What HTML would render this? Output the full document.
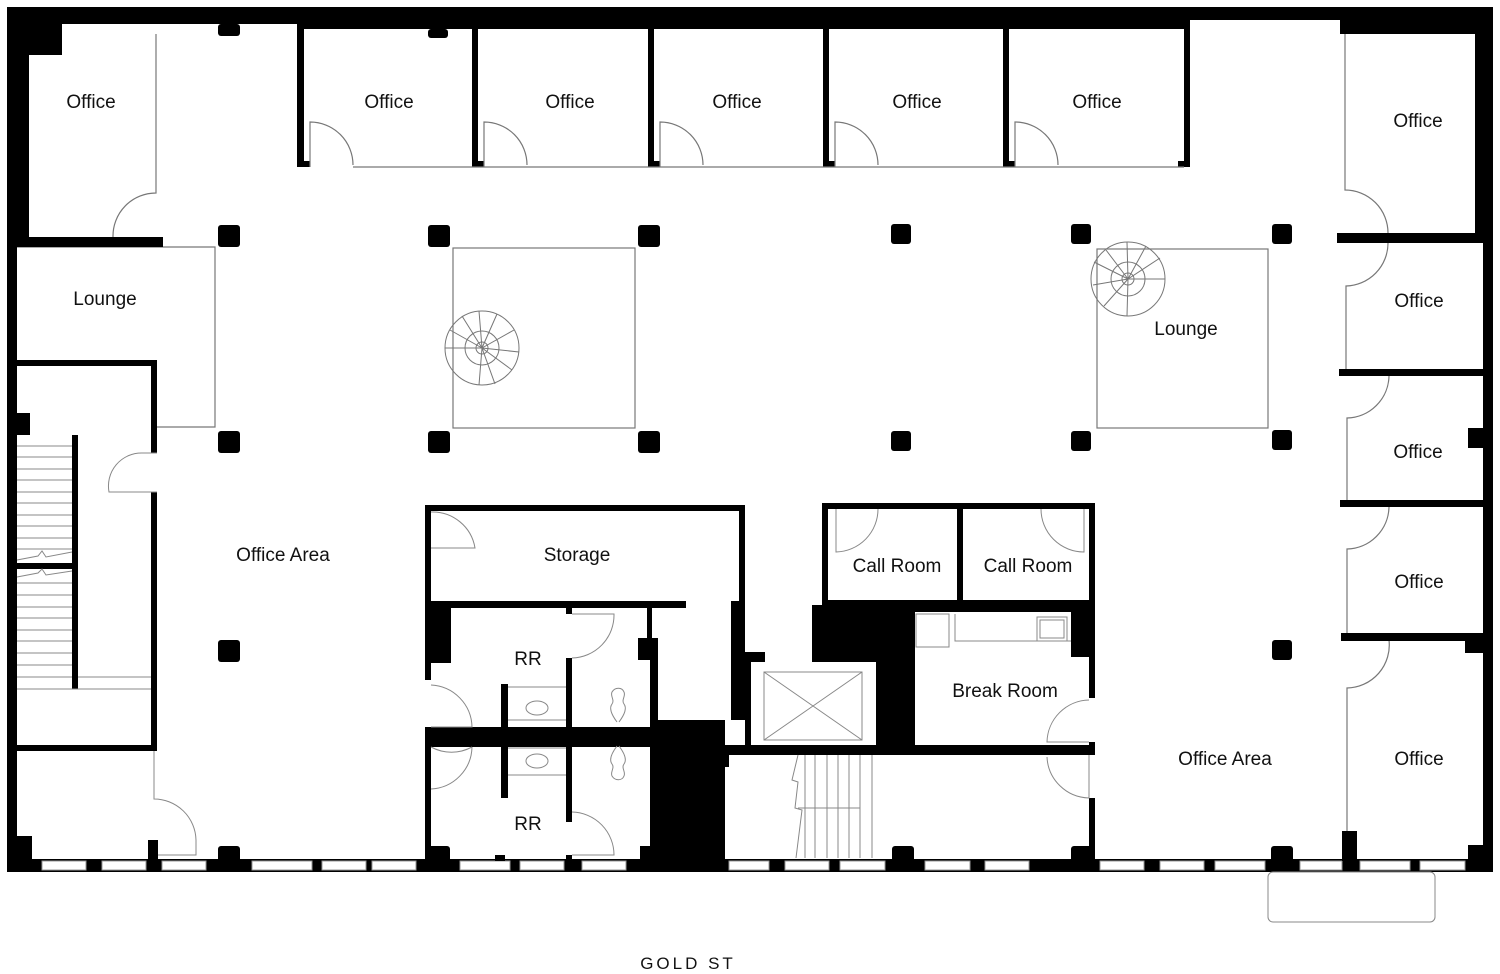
<!DOCTYPE html>
<html><head><meta charset="utf-8"><style>
html,body{margin:0;padding:0;background:#fff;}
svg{display:block}
text{font-family:"Liberation Sans",sans-serif;font-size:19px;fill:#111;text-anchor:middle;}
</style></head><body>
<svg width="1500" height="974" viewBox="0 0 1500 974" xmlns="http://www.w3.org/2000/svg">
<g fill="#000">
<rect x="7" y="7" width="1486" height="13"/>
<rect x="7" y="7" width="290" height="17"/>
<rect x="297" y="7" width="893" height="22"/>
<rect x="7" y="7" width="10" height="865"/>
<rect x="7" y="7" width="22" height="232"/>
<rect x="17" y="24" width="45" height="31"/>
<rect x="1340" y="7" width="135" height="27"/>
<rect x="1475" y="7" width="18" height="232"/>
<rect x="1483" y="230" width="10" height="642"/>
<rect x="1468" y="845" width="25" height="27"/>
<rect x="1468" y="428" width="15" height="20"/>
<rect x="7" y="859" width="1486" height="13"/>
</g>
<g fill="#fff" stroke="#999" stroke-width="1">
<rect x="42" y="861" width="44" height="9"/><rect x="102" y="861" width="44" height="9"/><rect x="162" y="861" width="44" height="9"/>
<rect x="252" y="861" width="60" height="9"/><rect x="322" y="861" width="44" height="9"/><rect x="372" y="861" width="44" height="9"/>
<rect x="460" y="861" width="50" height="9"/><rect x="520" y="861" width="44" height="9"/><rect x="582" y="861" width="44" height="9"/>
<rect x="729" y="861" width="40" height="9"/><rect x="785" y="861" width="44" height="9"/><rect x="840" y="861" width="45" height="9"/>
<rect x="925" y="861" width="45" height="9"/><rect x="985" y="861" width="44" height="9"/><rect x="1100" y="861" width="44" height="9"/>
<rect x="1160" y="861" width="44" height="9"/><rect x="1215" y="861" width="50" height="9"/><rect x="1300" y="861" width="42" height="9"/>
<rect x="1360" y="861" width="50" height="9"/><rect x="1420" y="861" width="45" height="9"/>
</g>
<rect x="1268" y="872" width="167" height="50" rx="5" fill="none" stroke="#888"/>
<g fill="#000">
<rect x="218" y="24" width="22" height="12" rx="3"/><rect x="428" y="29" width="20" height="9" rx="3"/>
<rect x="218" y="225" width="22" height="22" rx="3"/><rect x="428" y="225" width="22" height="22" rx="3"/><rect x="638" y="225" width="22" height="22" rx="3"/>
<rect x="891" y="224" width="20" height="20" rx="3"/><rect x="1071" y="224" width="20" height="20" rx="3"/><rect x="1272" y="224" width="20" height="20" rx="3"/>
<rect x="218" y="431" width="22" height="22" rx="3"/><rect x="428" y="431" width="22" height="22" rx="3"/><rect x="638" y="431" width="22" height="22" rx="3"/>
<rect x="891" y="431" width="20" height="20" rx="3"/><rect x="1071" y="431" width="20" height="20" rx="3"/><rect x="1272" y="430" width="20" height="20" rx="3"/>
<rect x="218" y="640" width="22" height="22" rx="3"/><rect x="1272" y="640" width="20" height="20" rx="3"/>
<rect x="218" y="846" width="22" height="16" rx="3"/><rect x="428" y="846" width="22" height="16" rx="3"/><rect x="892" y="846" width="22" height="16" rx="3"/>
<rect x="1071" y="846" width="22" height="16" rx="3"/><rect x="1271" y="846" width="22" height="16" rx="3"/>
<rect x="1342" y="831" width="15" height="30"/>
</g>
<g fill="#000">
<rect x="297" y="29" width="7" height="138"/><rect x="472" y="29" width="6" height="138"/><rect x="648" y="29" width="6" height="138"/>
<rect x="823" y="29" width="6" height="138"/><rect x="1003" y="29" width="6" height="138"/><rect x="1184" y="29" width="6" height="138"/>
<rect x="297" y="161" width="13" height="6"/><rect x="472" y="161" width="12" height="6"/><rect x="648" y="161" width="12" height="6"/>
<rect x="823" y="161" width="12" height="6"/><rect x="1003" y="161" width="12" height="6"/><rect x="1178" y="161" width="12" height="6"/>
</g>
<g fill="none" stroke="#777" stroke-width="1.2">
<path d="M310 167V122A43 43 0 0 1 353 165M353 167H1184"/>
<path d="M484 167V122A43 43 0 0 1 527 165"/>
<path d="M660 167V122A43 43 0 0 1 703 165"/>
<path d="M835 167V122A43 43 0 0 1 878 165"/>
<path d="M1015 167V122A43 43 0 0 1 1058 165"/>
<path d="M156 34V193A43 43 0 0 0 113 237"/>
<path d="M17 247H215V427H157"/>
<rect x="453" y="248" width="182" height="180"/>
<rect x="1097" y="249" width="171" height="179"/>
<path d="M1345 34V190A43 43 0 0 1 1388 233"/>
<path d="M1388 243A43 43 0 0 1 1346 286V370"/>
<path d="M1389 376A43 43 0 0 1 1347 418V500"/>
<path d="M1389 507A43 43 0 0 1 1347 549V633"/>
<path d="M1389 640A43 43 0 0 1 1347 688V831"/>
</g>
<g fill="#000">
<rect x="1337" y="233" width="146" height="10"/>
<rect x="1339" y="369" width="144" height="7"/>
<rect x="1340" y="500" width="143" height="7"/>
<rect x="1341" y="633" width="142" height="8"/>
<rect x="1465" y="641" width="18" height="12"/>
<rect x="17" y="237" width="146" height="10"/>
<rect x="17" y="360" width="140" height="6"/>
<rect x="151" y="360" width="6" height="93"/>
<rect x="151" y="492" width="6" height="259"/>
<rect x="17" y="745" width="140" height="6"/>
<rect x="72" y="435" width="6" height="254"/>
<rect x="17" y="563" width="60" height="6"/>
<rect x="17" y="413" width="13" height="22"/>
<rect x="17" y="836" width="15" height="23"/><rect x="148" y="840" width="10" height="19"/>
</g>
<g fill="none" stroke="#888" stroke-width="1">
<path d="M157 453H142A33 33 0 0 0 109 492H157"/>
<path d="M154 751V799A42 42 0 0 1 196 840V855H158"/>
<path d="M17 446H72M17 457H72M17 469H72M17 480H72M17 492H72M17 503H72M17 515H72M17 526H72M17 538H72M17 549H72"/>
<path d="M17 560L38 556L42 551L46 557L72 552M17 577L38 573L42 569L46 575L72 571"/>
<path d="M17 583H72M17 595H72M17 607H72M17 618H72M17 630H72M17 641H72M17 653H72M17 665H72M17 677H72"/>
<path d="M78 677H151M17 689H151"/>
</g>
<g fill="#000">
<rect x="425" y="505" width="320" height="6"/>
<rect x="425" y="505" width="6" height="175"/>
<rect x="425" y="728" width="6" height="131"/>
<rect x="425" y="601" width="261" height="7"/>
<rect x="739" y="505" width="6" height="107"/>
<rect x="425" y="608" width="26" height="55"/>
<rect x="566" y="608" width="6" height="6"/><rect x="566" y="658" width="6" height="76"/>
<rect x="647" y="608" width="5" height="30"/>
<rect x="638" y="638" width="20" height="22"/>
<rect x="650" y="638" width="8" height="90"/>
<rect x="425" y="727" width="300" height="20"/>
<rect x="501" y="684" width="7" height="114"/>
<rect x="566" y="744" width="6" height="78"/>
<rect x="566" y="855" width="6" height="6"/>
<rect x="650" y="720" width="75" height="141"/>
<rect x="731" y="600" width="14" height="120"/>
<rect x="745" y="652" width="20" height="10"/><rect x="812" y="652" width="64" height="10"/>
<rect x="745" y="662" width="6" height="90"/>
<rect x="725" y="745" width="370" height="10"/>
<rect x="822" y="503" width="273" height="6"/>
<rect x="822" y="503" width="6" height="150"/>
<rect x="957" y="503" width="6" height="100"/>
<rect x="822" y="600" width="273" height="12"/>
<rect x="812" y="605" width="103" height="57"/>
<rect x="876" y="605" width="39" height="147"/>
<rect x="1089" y="503" width="6" height="195"/>
<rect x="1089" y="742" width="6" height="13"/>
<rect x="1089" y="798" width="6" height="61"/>
<rect x="1071" y="612" width="18" height="45"/>
<rect x="425" y="846" width="20" height="13"/><rect x="495" y="855" width="10" height="6"/><rect x="640" y="846" width="12" height="13"/>
<rect x="720" y="755" width="9" height="12"/>
</g>
<g fill="#fff">
<rect x="431" y="511" width="308" height="90"/>
<rect x="828" y="509" width="129" height="91"/>
<rect x="963" y="509" width="126" height="91"/>
<rect x="915" y="612" width="156" height="133"/>
<rect x="751" y="662" width="125" height="83"/>
</g>
<g fill="none" stroke="#888" stroke-width="1">
<path d="M431 548H475A43 43 0 0 0 431 512"/>
<path d="M836 509V552A43 43 0 0 0 878 509"/>
<path d="M1084 509V552A43 43 0 0 1 1041 509"/>
<path d="M431 685A43 43 0 0 1 472 727H431"/>
<path d="M431 747A43 43 0 0 0 472 747M431 789A43 43 0 0 0 472 747"/>
<path d="M572 658A43 43 0 0 0 614 614H572"/>
<path d="M572 812A43 43 0 0 1 614 855H572"/>
<path d="M508 687H566M508 720H566M508 748H566M508 775H566"/>
<ellipse cx="537" cy="708" rx="11" ry="7"/><ellipse cx="537" cy="761" rx="11" ry="7"/>
<path d="M617 722c-6-8-8-14-5-18c3-4-2-8 0-12c3-5 10-5 12 0c2 4-3 8 0 12c3 4 1 10-5 18"/>
<path d="M617 746c-6 8-8 14-5 18c3 4-2 8 0 12c3 5 10 5 12 0c2-4-3-8 0-12c3-4 1-10-5-18"/>
<rect x="764" y="672" width="98" height="68"/>
<path d="M764 672L862 740M862 672L764 740"/>
<path d="M1089 700A43 43 0 0 0 1047 742H1089M1089 755V798A43 43 0 0 1 1047 757"/>
<rect x="916" y="614" width="33" height="33"/><path d="M955 614V641H1071"/><rect x="1037" y="617" width="30" height="24"/><rect x="1040" y="620" width="24" height="18"/>
<path d="M798 755L792 780L798 782L795 808L802 810L796 858M805 755V858M815 755V858M827 755V858M838 755V858M849 755V858M860 755V858M872 755V858M798 808H860"/>
</g>
<g fill="none" stroke="#777" stroke-width="1">
<circle cx="482" cy="348" r="37"/><circle cx="482" cy="348" r="6"/><circle cx="482" cy="348" r="17"/>
<path d="M482 348L445 348M482 348L450 330M482 348L462 316M482 348L479 311M482 348L497 314M482 348L514 330M482 348L519 352M482 348L512 370M482 348L495 384M482 348L479 385"/>
<circle cx="1128" cy="279" r="37"/><circle cx="1128" cy="279" r="6"/><circle cx="1128" cy="279" r="17"/>
<path d="M1128 279L1165 279M1128 279L1106 250M1128 279L1127 242M1128 279L1146 246M1128 279L1160 258M1128 279L1094 262M1128 279L1093 285M1128 279L1104 306M1128 279L1127 316"/>
</g>
<text x="91" y="108">Office</text>
<text x="389" y="108">Office</text>
<text x="570" y="108">Office</text>
<text x="737" y="108">Office</text>
<text x="917" y="108">Office</text>
<text x="1097" y="108">Office</text>
<text x="1418" y="127">Office</text>
<text x="1419" y="307">Office</text>
<text x="1418" y="458">Office</text>
<text x="1419" y="588">Office</text>
<text x="1419" y="765">Office</text>
<text x="105" y="305">Lounge</text>
<text x="1186" y="335">Lounge</text>
<text x="283" y="561">Office Area</text>
<text x="1225" y="765">Office Area</text>
<text x="577" y="561">Storage</text>
<text x="897" y="572">Call Room</text>
<text x="1028" y="572">Call Room</text>
<text x="1005" y="697">Break Room</text>
<text x="528" y="665">RR</text>
<text x="528" y="830">RR</text>
<text x="688" y="969" style="font-size:17px;letter-spacing:3px">GOLD ST</text>
</svg>
</body></html>
